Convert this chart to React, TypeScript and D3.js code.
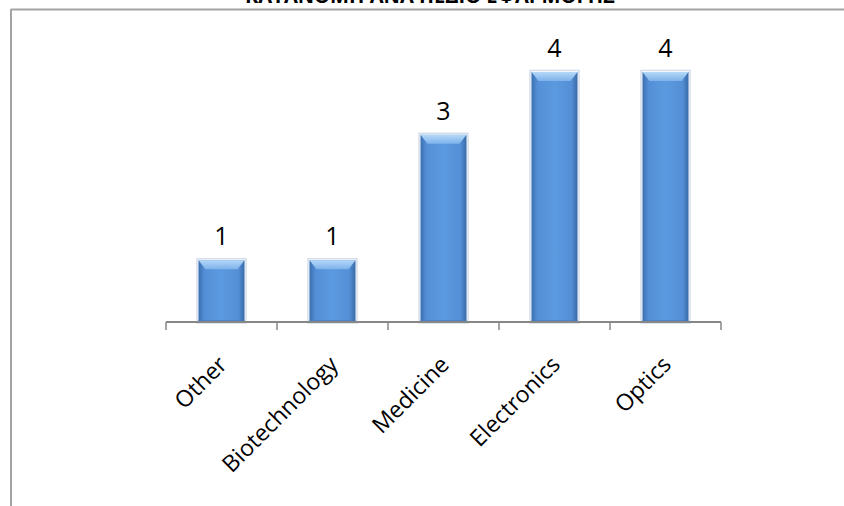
import React from "react";
import * as d3 from "d3";

const categories = ["Other", "Biotechnology", "Medicine", "Electronics", "Optics"];
const values = [1, 1, 3, 4, 4];
const yDomain = [0, 4];
const title = "ΚΑΤΑΝΟΜΗ ΑΝΑ ΠΕΔΙΟ ΕΦΑΡΜΟΓΗΣ";

const W = 844;
const H = 506;

export default function App() {
  const x = d3
    .scaleBand<string>()
    .domain(categories)
    .range([166, 721])
    .paddingInner(0.585)
    .paddingOuter(0.2925);
  const y = d3.scaleLinear().domain(yDomain).range([323, 72]);
  const step = x.step();
  const gap = step - x.bandwidth();
  const boundaries = categories.map((c) => (x(c) as number) - gap / 2);
  boundaries.push((x(categories[categories.length - 1]) as number) + x.bandwidth() + gap / 2);
  const axisY = y(0) - 1;
  const bev = 7;
  const font = "'Open Sans', 'DejaVu Sans', sans-serif";

  return (
    <svg
      width={W}
      height={H}
      style={{ position: "absolute", left: 0, top: 0, background: "#fff" }}
    >
      <defs>
        <linearGradient id="body" x1="0" x2="1" y1="0" y2="0">
          <stop offset="0" stopColor="#3a6fb0" />
          <stop offset="0.13" stopColor="#548fd6" />
          <stop offset="0.5" stopColor="#5b9ae0" />
          <stop offset="0.87" stopColor="#548fd6" />
          <stop offset="1" stopColor="#386aa8" />
        </linearGradient>
        <linearGradient id="topbev" x1="0" x2="0" y1="0" y2="1">
          <stop offset="0" stopColor="#b5d8f8" />
          <stop offset="1" stopColor="#7db2ea" />
        </linearGradient>
      </defs>

      {/* frame */}
      <line x1={11} x2={W} y1={9.5} y2={9.5} stroke="#a3a3a3" strokeWidth={2} />
      <line x1={11} x2={11} y1={9} y2={H} stroke="#a3a3a3" strokeWidth={2} />

      {/* title (cut off at top, as in the reference) */}
      <text
        x={430}
        y={3}
        textAnchor="middle"
        fontFamily={font}
        fontWeight="bold"
        fontSize={20}
        textLength={370}
        lengthAdjust="spacingAndGlyphs"
        fill="#000"
      >
        {title}
      </text>

      {/* bars */}
      {categories.map((c, i) => {
        const x0 = x(c) as number;
        const w = x.bandwidth();
        const x1 = x0 + w;
        const top = y(values[i]);
        const bottom = y(0);
        return (
          <g key={c}>
            <rect
              x={x0 - 1.5}
              y={top - 1.5}
              width={w + 3}
              height={bottom - top + 1.5}
              fill="none"
              stroke="#c9d6e6"
              strokeWidth={1.5}
              opacity={0.8}
            />
            <rect x={x0} y={top} width={w} height={bottom - top} fill="url(#body)" />
            <polygon
              points={`${x0},${top} ${x1},${top} ${x1 - bev},${top + bev + 2} ${x0 + bev},${top + bev + 2}`}
              fill="url(#topbev)"
            />
            <rect x={x0} y={bottom - 3} width={w} height={3} fill="#4678b8" opacity={0.6} />
            <text
              x={x0 + w / 2}
              y={top - 15}
              textAnchor="middle"
              fontFamily={font}
              fontSize={25}
              fill="#000"
            >
              {values[i]}
            </text>
          </g>
        );
      })}

      {/* axis */}
      <line
        x1={boundaries[0]}
        x2={boundaries[boundaries.length - 1]}
        y1={axisY}
        y2={axisY}
        stroke="#878787"
        strokeWidth={2}
      />
      {boundaries.map((b, i) => (
        <line key={i} x1={b} x2={b} y1={axisY} y2={axisY + 8} stroke="#878787" strokeWidth={1.5} />
      ))}

      {/* category labels */}
      {categories.map((c) => {
        const cx = (x(c) as number) + x.bandwidth() / 2 + 7;
        const cy = 366;
        return (
          <text
            key={c}
            x={cx}
            y={cy}
            textAnchor="end"
            fontFamily={font}
            fontSize={23}
            fill="#000"
            transform={`rotate(-45, ${cx}, ${cy})`}
          >
            {c}
          </text>
        );
      })}
    </svg>
  );
}
